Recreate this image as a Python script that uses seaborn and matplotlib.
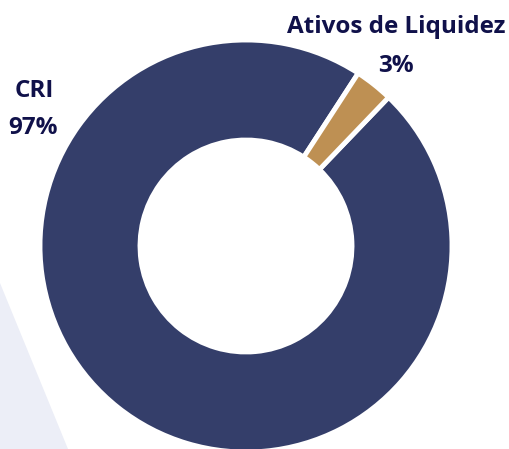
import matplotlib
matplotlib.use("Agg")
import matplotlib.pyplot as plt
import seaborn as sns

categories = ["CRI", "Ativos de Liquidez"]
values = [97, 3]
pct_labels = ["97%", "3%"]

sns.set_theme(style="white")
plt.rcParams['font.family'] = ['Open Sans', 'DejaVu Sans']

colors = ["#343E6A", "#BE9053"]

W, H = 509, 449
fig = plt.figure(figsize=(W / 100, H / 100), dpi=100)
ax = fig.add_axes([0, 0, 1, 1])

# background decoration
ax.fill([0, 68, 0], [H - 283, 0, 0], color="#ECEEF7", zorder=0, lw=0)

R = 206
ax.pie(values, colors=colors, center=(246, H - 246), radius=R,
       startangle=57, counterclock=True,
       wedgeprops=dict(width=R - 106, edgecolor="white", linewidth=3.5),
       frame=True)

ax.set_xlim(0, W)
ax.set_ylim(0, H)
ax.set_aspect("equal")
ax.axis("off")

tc = "#10114A"
kw = dict(ha="center", va="baseline", fontsize=17.5, fontweight="bold", color=tc)
ax.text(34, H - 97, categories[0], **kw)
ax.text(33, H - 134, pct_labels[0], **kw)
ax.text(396, H - 33, categories[1], **kw)
ax.text(396, H - 72, pct_labels[1], **kw)

fig.savefig("out.png", dpi=100)
